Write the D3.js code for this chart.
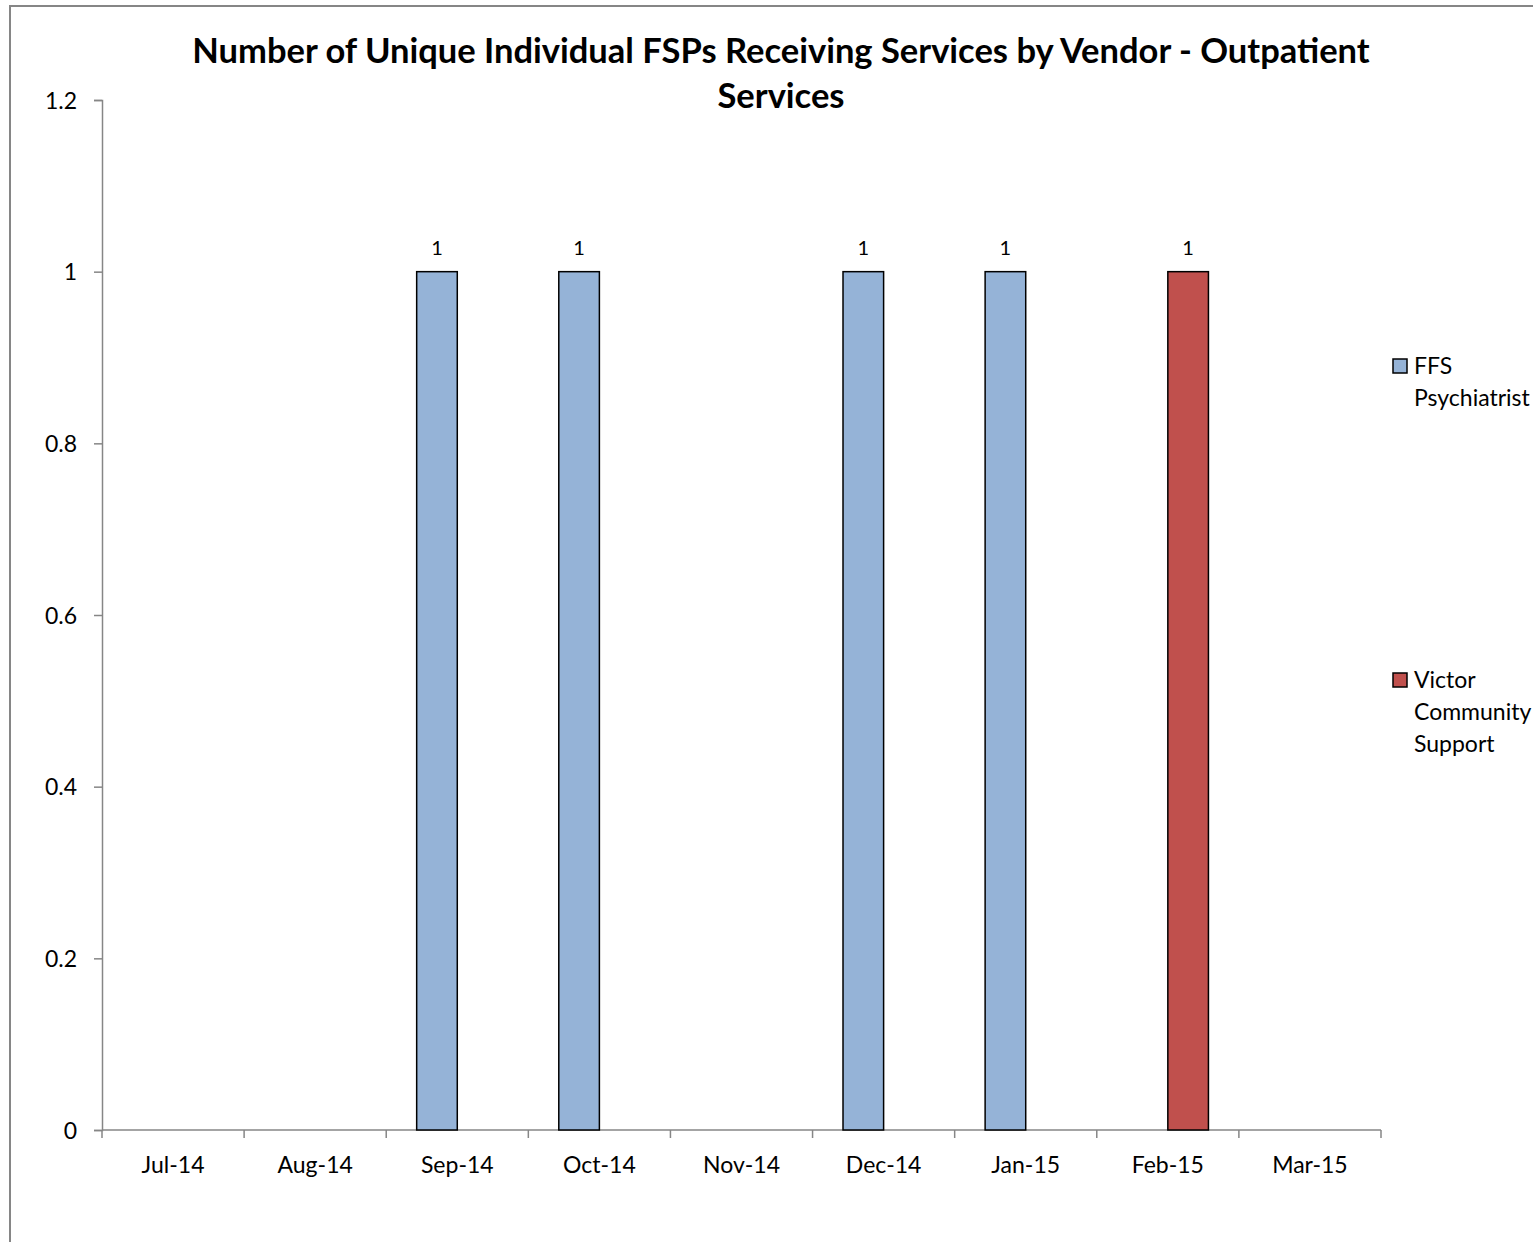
<!DOCTYPE html>
<html><head><meta charset="utf-8">
<script src="https://cdn.jsdelivr.net/npm/d3@7"></script>
<style>body{margin:0;background:#fff;overflow:hidden}svg{display:block}</style>
</head><body>
<script>
const categories = ["Jul-14","Aug-14","Sep-14","Oct-14","Nov-14","Dec-14","Jan-15","Feb-15","Mar-15"];
const seriesNames = ["FFS Psychiatrist","Victor Community Support"];
const ffsValues = [null,null,1,1,null,1,1,null,null];
const victorValues = [null,null,null,null,null,null,null,1,null];
const yTicks = [0,0.2,0.4,0.6,0.8,1,1.2];
const colors = ["#95B3D7","#C0504D"];
const legendLines = [["FFS","Psychiatrist"],["Victor","Community","Support"]];
const titleLines = ["Number of Unique Individual FSPs Receiving Services by Vendor - Outpatient","Services"];

(function(){
const W=1533,H=1242;
const font="Lato, 'Open Sans', sans-serif";
const svg=d3.select("body").append("svg").attr("width",W).attr("height",H);
svg.append("rect").attr("x",10).attr("y",6).attr("width",W).attr("height",H)
  .attr("fill","#fff").attr("stroke","#868686").attr("stroke-width",2);

const pL=102,pR=1381,pT=100,pB=1130;
const x0=d3.scaleBand().domain(categories).range([pL,pR]).padding(0);
const bw=x0.bandwidth();
const x1=d3.scaleBand().domain(seriesNames).range([bw*0.75/3.5,bw-bw*0.75/3.5]).padding(0);
const y=d3.scaleLinear().domain([0,1.2]).range([pB,pT]);

svg.append("g").selectAll("text").data(titleLines).join("text")
  .attr("x",781).attr("y",(d,i)=>63+i*45).attr("text-anchor","middle")
  .attr("font-family",font).attr("font-weight","bold").attr("font-size",34.5)
  .attr("fill","#000").text(d=>d);

const yAxis=d3.axisLeft(y).tickValues(yTicks).tickSize(8).tickFormat(d=>d3.format("")(d));
const gy=svg.append("g").attr("transform",`translate(${pL},0)`).call(yAxis);
gy.select(".domain").attr("stroke","#868686").attr("stroke-width",1.5);
gy.selectAll(".tick line").attr("stroke","#868686").attr("stroke-width",1.5);
gy.selectAll(".tick text").attr("font-family",font).attr("font-size",23).attr("fill","#000").attr("x",-25).attr("dy","0.35em");

const gx=svg.append("g").attr("transform",`translate(0,${pB})`);
gx.append("line").attr("x1",pL).attr("x2",pR).attr("y1",0).attr("y2",0).attr("stroke","#868686").attr("stroke-width",1.5);
const bounds=categories.map(c=>x0(c)).concat([pR]);
gx.selectAll("line.tk").data(bounds).join("line").attr("class","tk")
  .attr("x1",d=>d).attr("x2",d=>d).attr("y1",0).attr("y2",8).attr("stroke","#868686").attr("stroke-width",1.5);
gx.selectAll("text").data(categories).join("text")
  .attr("x",d=>x0(d)+bw/2).attr("y",43).attr("text-anchor","middle")
  .attr("font-family",font).attr("font-size",23).attr("fill","#000").text(d=>d);

const series=[ffsValues,victorValues];
series.forEach((vals,si)=>{
  const data=categories.map((c,i)=>({c,v:vals[i]})).filter(d=>d.v!=null);
  const g=svg.append("g");
  g.selectAll("rect").data(data).join("rect")
    .attr("x",d=>x0(d.c)+x1(seriesNames[si])).attr("width",x1.bandwidth())
    .attr("y",d=>y(d.v)).attr("height",d=>y(0)-y(d.v))
    .attr("fill",colors[si]).attr("stroke","#000").attr("stroke-width",1.5);
  g.selectAll("text").data(data).join("text")
    .attr("x",d=>x0(d.c)+x1(seriesNames[si])+x1.bandwidth()/2).attr("y",d=>y(d.v)-17)
    .attr("text-anchor","middle").attr("font-family",font).attr("font-size",20).attr("fill","#000").text(d=>d.v);
});

const legY=[366,680];
legendLines.forEach((lines,i)=>{
  const g=svg.append("g");
  g.append("rect").attr("x",1393).attr("y",legY[i]-7).attr("width",14).attr("height",14)
    .attr("fill",colors[i]).attr("stroke","#000").attr("stroke-width",1.5);
  g.selectAll("text").data(lines).join("text")
    .attr("x",1414).attr("y",(d,j)=>legY[i]+8+j*32)
    .attr("font-family",font).attr("font-size",23).attr("fill","#000").text(d=>d);
});
})();
</script>
</body></html>
